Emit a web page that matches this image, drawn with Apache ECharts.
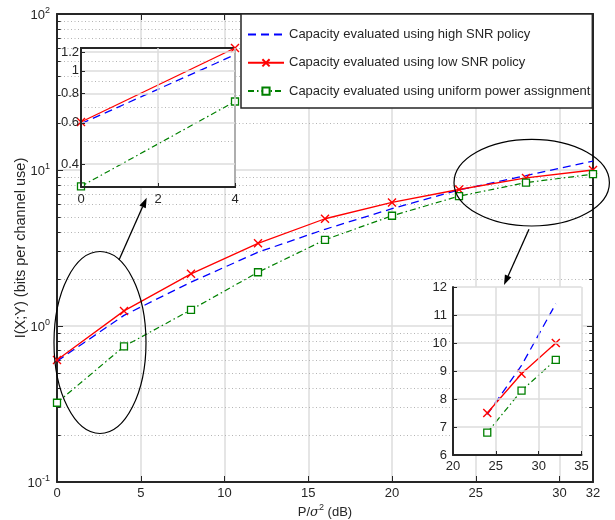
<!DOCTYPE html>
<html><head><meta charset="utf-8">
<script src="https://cdn.jsdelivr.net/npm/echarts@6/dist/echarts.min.js"></script>
<style>html,body{margin:0;padding:0;background:#fff}#c{width:615px;height:520px}</style>
</head><body><div id="c"></div>
<script>
// ---- data ----
const snr = [0, 4, 8, 12, 16, 20, 24, 28, 32];
const highSNR = [0.595, 1.17, 1.91, 2.97, 4.17, 5.65, 7.45, 9.2, 11.4];
const lowSNR = [0.605, 1.25, 2.16, 3.39, 4.87, 6.2, 7.5, 8.9, 10.0];
const uniform = [0.322, 0.74, 1.27, 2.21, 3.57, 5.09, 6.8, 8.3, 9.4];
const seriesNames = ['Capacity evaluated using high SNR policy', 'Capacity evaluated using low SNR policy', 'Capacity evaluated using uniform power assignment'];
const inset1YTicks = [0.4, 0.6, 0.8, 1, 1.2];
const inset1YMinor = [0.5, 0.7, 0.9, 1.1];
const mainMinor = [0.2,0.3,0.4,0.5,0.6,0.7,0.8,0.9,2,3,4,5,6,7,8,9,20,30,40,50,60,70,80,90];

const FONT = 'Liberation Sans, Arial, Helvetica, sans-serif';
const TXT = '#262626';
const GRID = '#dcdcdc';
const DOT = {color: '#b4b4b4', type: [1, 2.5], width: 1};
const pairs = (ys, a, b) => snr.map((x, i) => [x, ys[i]]).slice(a, b);

const chart = echarts.init(document.getElementById('c'), null, {renderer: 'canvas'});

const styles = [
  {color: '#0000ff', lineStyle: {type: [8, 5], width: 1.3}, symbol: 'none', symbolSize: 0},
  {color: '#ff0000', lineStyle: {type: 'solid', width: 1.3}, symbol: 'path://M0,0L10,10M10,0L0,10', symbolSize: 8},
  {color: '#008000', lineStyle: {type: [6, 3, 1.5, 3], width: 1.2}, symbol: 'rect', symbolSize: 7}
];
const dataSets = [highSNR, lowSNR, uniform];

function mkSeries(k, xi, yi, a, b, z) {
  const s = styles[k];
  return {
    type: 'line', name: seriesNames[k], xAxisIndex: xi, yAxisIndex: yi,
    data: pairs(dataSets[k], a, b), z: z, clip: true, animation: false,
    symbol: s.symbol, symbolSize: s.symbolSize, showSymbol: s.symbol !== 'none',
    lineStyle: Object.assign({color: s.color}, s.lineStyle),
    itemStyle: k === 2 ? {color: '#fff', borderColor: s.color, borderWidth: 1.3}
                       : {color: s.color, borderColor: s.color, borderWidth: 1.4},
    emphasis: {disabled: true}
  };
}

const series = [];
// decorative minor gridlines / ticks of main log axis
series.push({
  type: 'line', xAxisIndex: 0, yAxisIndex: 0, data: [], z: 1, silent: true, animation: false,
  markLine: {
    z: 1, silent: true, symbol: 'none', label: {show: false}, animation: false,
    lineStyle: DOT,
    data: mainMinor.map(v => ({yAxis: v}))
  }
});
series.push({
  type: 'line', xAxisIndex: 0, yAxisIndex: 0, data: [], z: 1, silent: true, animation: false,
  markLine: {
    z: 1, silent: true, symbol: 'none', label: {show: false}, animation: false,
    lineStyle: {color: '#262626', type: 'solid', width: 1},
    data: mainMinor.map(v => [{coord: [0, v]}, {coord: [0.22, v]}])
      .concat(mainMinor.map(v => [{coord: [31.78, v]}, {coord: [32, v]}]))
  }
});
for (let k = 0; k < 3; k++) series.push(mkSeries(k, 0, 0, 0, snr.length, 2));
// inset 1 minor gridlines
series.push({
  type: 'line', xAxisIndex: 2, yAxisIndex: 2, data: [], z: 6, silent: true, animation: false,
  markLine: {
    z: 6, silent: true, symbol: 'none', label: {show: false}, animation: false,
    lineStyle: DOT,
    data: inset1YMinor.map(v => ({yAxis: v}))
  }
});
for (let k = 0; k < 3; k++) series.push(mkSeries(k, 2, 2, 0, 2, 7));
for (let k = 0; k < 3; k++) series.push(mkSeries(k, 3, 3, 6, snr.length, 7));

const supLabel = {
  formatter: v => '{b|10}{s|' + Math.round(Math.log10(v)) + '}',
  rich: {
    b: {fontSize: 13, color: TXT, fontFamily: FONT, verticalAlign: 'bottom'},
    s: {fontSize: 9, color: TXT, fontFamily: FONT, verticalAlign: 'bottom', padding: [0, 0, 7, 0]}
  },
  margin: 7
};

const axisLineBlack = {show: true, onZero: false, lineStyle: {color: '#262626', width: 2}};
const tickIn = {show: true, inside: true, length: 6, lineStyle: {color: '#262626', width: 1}};
const lblStyle = {color: TXT, fontSize: 13, fontFamily: FONT};

const option = {
  backgroundColor: '#fff',
  animation: false,
  textStyle: {fontFamily: FONT},
  grid: [
    {left: 57, right: 22, top: 14, bottom: 38, containLabel: false, outerBoundsMode: 'none', z: 0},
    {left: 81, top: 48, width: 154, height: 139, show: true, backgroundColor: '#fff', borderColor: '#262626', borderWidth: 2, outerBoundsMode: 'none', z: 5},
    {left: 453, top: 287, width: 128.5, height: 168, show: true, backgroundColor: '#fff', borderWidth: 0, outerBoundsMode: 'none', z: 5}
  ],
  xAxis: [
    {type: 'value', gridIndex: 0, min: 0, max: 32, interval: 5, position: 'bottom',
     axisLine: axisLineBlack, axisTick: tickIn,
     axisLabel: Object.assign({interval: 0, margin: 5, showMaxLabel: true}, lblStyle),
     splitLine: {show: true, lineStyle: {color: GRID, width: 1.5}},
     name: '{a|P/}{i|σ}{s|2}{a| (dB)}', nameLocation: 'middle', nameGap: 21, nameMoveOverlap: false,
     nameTextStyle: {rich: {
       a: {fontSize: 13, color: TXT, fontFamily: FONT, verticalAlign: 'bottom'},
       i: {fontSize: 13, color: TXT, fontFamily: 'DejaVu Serif, serif', fontStyle: 'italic', verticalAlign: 'bottom'},
       s: {fontSize: 9, color: TXT, fontFamily: FONT, verticalAlign: 'bottom', padding: [0, 0, 7, 0]}
     }}},
    {type: 'value', gridIndex: 0, min: 0, max: 32, interval: 5, position: 'top',
     axisLine: axisLineBlack, axisTick: tickIn, axisLabel: {show: false}, splitLine: {show: false}},
    {type: 'value', gridIndex: 1, min: 0, max: 4, interval: 2, position: 'bottom', z: 8,
     axisLine: axisLineBlack, axisTick: Object.assign({}, tickIn, {length: 4}),
     axisLabel: Object.assign({margin: 6}, lblStyle),
     splitLine: {show: true, lineStyle: {color: GRID, width: 1.5}}},
    {type: 'value', gridIndex: 2, min: 20, max: 35, interval: 5, position: 'bottom', z: 8,
     axisLine: axisLineBlack, axisTick: Object.assign({}, tickIn, {length: 4}),
     axisLabel: Object.assign({margin: 5}, lblStyle),
     splitLine: {show: true, lineStyle: {color: GRID, width: 1.5}}}
  ],
  yAxis: [
    {type: 'log', logBase: 10, gridIndex: 0, min: 0.1, max: 100, position: 'left',
     axisLine: axisLineBlack, axisTick: tickIn, axisLabel: supLabel,
     splitLine: {show: true, lineStyle: {color: GRID, width: 1.5}},
     name: 'I(X;Y) (bits per channel use)', nameLocation: 'middle', nameGap: 29, nameRotate: 90,
     nameMoveOverlap: false,
     nameTextStyle: {fontSize: 14.5, color: TXT, fontFamily: FONT}},
    {type: 'log', logBase: 10, gridIndex: 0, min: 0.1, max: 100, position: 'right',
     axisLine: axisLineBlack, axisTick: tickIn, axisLabel: {show: false}, splitLine: {show: false}},
    {type: 'log', logBase: 10, gridIndex: 1, min: 0.32, max: 1.25, position: 'left', z: 8,
     axisLine: axisLineBlack,
     axisTick: Object.assign({}, tickIn, {length: 4, customValues: inset1YTicks}),
     axisLabel: Object.assign({margin: 2, customValues: inset1YTicks, formatter: v => String(+v.toFixed(2))}, lblStyle),
     splitLine: {show: true, lineStyle: {color: GRID, width: 1.5}}},
    {type: 'value', gridIndex: 2, min: 6, max: 12, interval: 1, position: 'left', z: 8,
     axisLine: axisLineBlack, axisTick: Object.assign({}, tickIn, {length: 4}),
     axisLabel: Object.assign({margin: 6}, lblStyle),
     splitLine: {show: true, lineStyle: {color: GRID, width: 1.5}}}
  ],
  legend: {
    show: true,
    data: seriesNames.map((n, i) => i === 0
      ? {name: n, itemStyle: {color: 'rgba(0,0,0,0)', borderColor: 'rgba(0,0,0,0)', borderWidth: 0}}
      : {name: n}),
    orient: 'vertical', left: 241, top: 14,
    padding: [13.5, 2, 10, 6], itemGap: 14.3, itemWidth: 36, itemHeight: 9,
    backgroundColor: '#fff', borderColor: '#262626', borderWidth: 1.5,
    textStyle: {fontSize: 13, lineHeight: 14, color: TXT, fontFamily: FONT},
    selectedMode: false, z: 9
  },
  graphic: [
    {type: 'ellipse', z: 20, shape: {cx: 100, cy: 342.5, rx: 46, ry: 91}, style: {fill: null, stroke: '#000', lineWidth: 1.2}},
    {type: 'ellipse', z: 20, shape: {cx: 531.7, cy: 182.7, rx: 77.7, ry: 43.3}, style: {fill: null, stroke: '#000', lineWidth: 1.2}},
    {type: 'line', z: 20, shape: {x1: 119, y1: 260, x2: 142.6, y2: 206.8}, style: {stroke: '#000', lineWidth: 1.3}},
    {type: 'polygon', z: 20, shape: {points: [[146.7, 197.7], [145.8, 208.2], [139.4, 205.4]]}, style: {fill: '#000'}},
    {type: 'line', z: 20, shape: {x1: 529, y1: 229.3, x2: 508.1, y2: 275.9}, style: {stroke: '#000', lineWidth: 1.3}},
    {type: 'polygon', z: 20, shape: {points: [[504, 285], [511.3, 277.3], [504.9, 274.5]]}, style: {fill: '#000'}}
  ],
  series: series
};
chart.setOption(option);
</script></body></html>
